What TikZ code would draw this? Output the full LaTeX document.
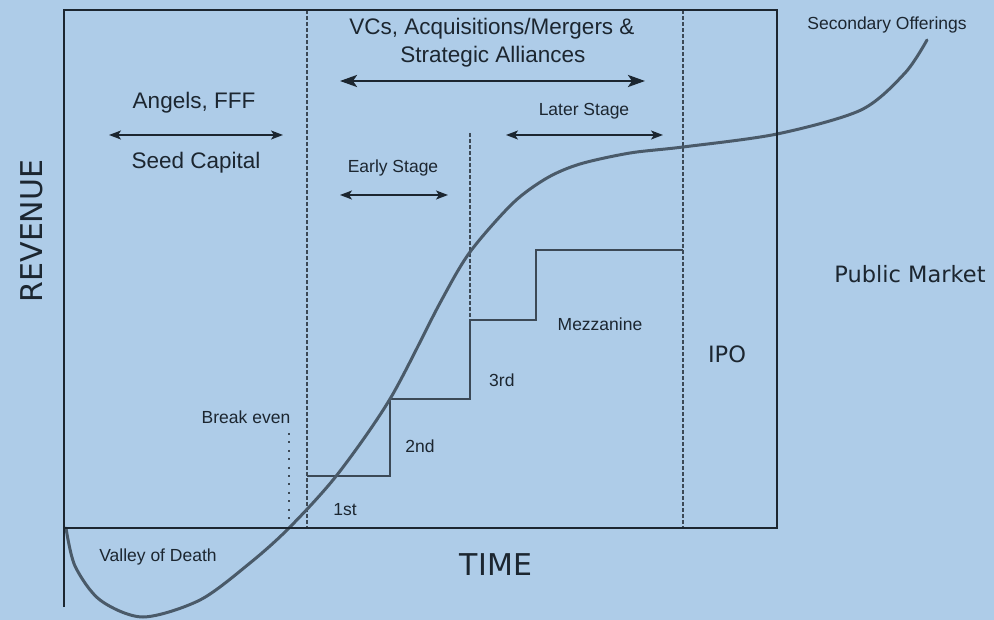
\documentclass[tikz,border=0pt]{standalone}
\usepackage{fontspec}
\setmainfont{Liberation Sans}
\newfontfamily\dejavu{DejaVu Sans}
\usetikzlibrary{arrows.meta}
\definecolor{bg}{HTML}{AECCE8}
\definecolor{ink}{HTML}{1C2630}
\definecolor{curveclr}{HTML}{4A5A69}
\definecolor{stepclr}{HTML}{3C4956}

\begin{document}
\begin{tikzpicture}[x=1pt,y=-1pt,
  frame/.style={draw=ink, line width=2pt},
  divider/.style={draw=stepclr, line width=1.8pt, dash pattern=on 4pt off 2pt},
  dotline/.style={draw=stepclr, line width=2.5pt, dash pattern=on 2pt off 6.4pt},
  stepline/.style={draw=stepclr, line width=1.6pt},
  span/.style={draw=ink, line width=1.6pt,
    {Stealth[length=12pt,width=9pt,inset=3pt]}-{Stealth[length=12pt,width=9pt,inset=3pt]}},
  bigspan/.style={draw=ink, line width=2.6pt,
    {Stealth[length=17pt,width=12pt,inset=4pt]}-{Stealth[length=17pt,width=12pt,inset=4pt]}},
  lbl/.style={text=ink, inner sep=0pt, anchor=base, font=\fontsize{17.5}{20}\selectfont},
  biglbl/.style={text=ink, inner sep=0pt, anchor=base, font=\fontsize{22.5}{28}\selectfont},
  axislbl/.style={text=ink, inner sep=0pt, anchor=base, font=\dejavu\fontsize{30}{34}\selectfont},
  marketlbl/.style={text=ink, inner sep=0pt, anchor=base, font=\dejavu\fontsize{22.5}{26}\selectfont}
]
\fill[bg] (0,0) rectangle (994,620);
\useasboundingbox (0,0) rectangle (994,620);

% frame of the chart
\coordinate (tl) at (64,10);
\coordinate (tr) at (777,10);
\coordinate (br) at (777,528);
\coordinate (bl) at (64,528);
\coordinate (axisend) at (64,607);

% stage dividers
\coordinate (d1t) at (307,10);   \coordinate (d1b) at (307,528);
\coordinate (d2t) at (470,133);  \coordinate (d2b) at (470,320);
\coordinate (d3t) at (683,10);   \coordinate (d3b) at (683,528);
\coordinate (bet) at (289,433);  \coordinate (beb) at (289,522);
\draw[divider] (d1t) -- (d1b);
\draw[divider] (d2t) -- (d2b);
\draw[divider] (d3t) -- (d3b);
\draw[dotline] (bet) -- (beb);

% funding rounds as steps
\draw[stepline] (307,476) -- (390,476) -- (390,399) -- (470,399) -- (470,320)
  -- (536,320) -- (536,250) -- (683,250);

% revenue curve
\draw[curveclr, line width=3pt, line cap=round] plot[smooth, tension=0.5] coordinates {
  (66,528) (75,566) (100,600) (143,617) (200,600) (250,563) (289,528)
  (337,475) (390,399) (440,303) (470,252) (513,203) (547,178) (580,164)
  (630,153) (683,147) (777,134) (861,110) (905,73) (927,40)};

\draw[frame] (axisend) -- (tl) -- (tr) -- (br) -- (bl);

% span arrows
\coordinate (seedL) at (109,135);  \coordinate (seedR) at (283,135);
\coordinate (vcL) at (340,81);     \coordinate (vcR) at (645,81);
\coordinate (earlyL) at (340,195); \coordinate (earlyR) at (448,195);
\coordinate (laterL) at (506,135); \coordinate (laterR) at (663,135);
\draw[span] (seedL) -- (seedR);
\draw[bigspan] (vcL) -- (vcR);
\draw[span] (earlyL) -- (earlyR);
\draw[span] (laterL) -- (laterR);

% labels
\node[biglbl] (angels) at (194,109) {Angels, FFF};
\node[biglbl] (seed) at (196,169) {Seed Capital};
\node[biglbl] (vcs1) at (492,35) {VCs, Acquisitions/Mergers \&};
\node[biglbl] (vcs2) at (493,63) {Strategic Alliances};
\node[lbl] (early) at (393,173) {Early Stage};
\node[lbl] (later) at (584,116) {Later Stage};
\node[lbl] (secondary) at (887,30) {Secondary Offerings};
\node[lbl] (mezz) at (600,331) {Mezzanine};
\node[lbl, anchor=base west] (third) at (489,387) {3rd};
\node[lbl] (second) at (420,452) {2nd};
\node[lbl] (first) at (345,515) {1st};
\node[lbl] (breakeven) at (246,424) {Break even};
\node[lbl] (valley) at (158,561) {Valley of Death};
\node[axislbl] (time) at (496,575) {TIME};
\node[axislbl, rotate=90] (revenue) at (42,231) {REVENUE};
\node[marketlbl] (public) at (910,283) {Public Market};
\node[marketlbl] (ipo) at (727,363) {IPO};
\end{tikzpicture}
\end{document}
